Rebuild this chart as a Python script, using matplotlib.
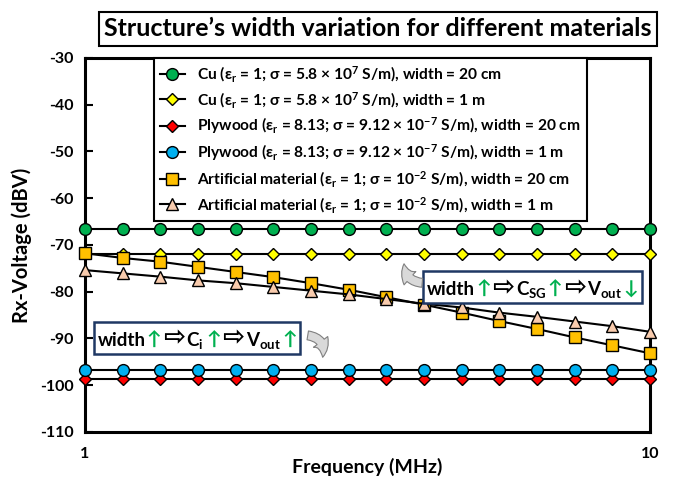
import numpy as np
import matplotlib
matplotlib.use("Agg")
import matplotlib.pyplot as plt
from matplotlib.offsetbox import TextArea, HPacker, AnchoredOffsetbox

plt.rcParams['font.family'] = ['Lato', 'DejaVu Sans']
plt.rcParams['font.weight'] = 'bold'
plt.rcParams['axes.unicode_minus'] = False
plt.rcParams['mathtext.fontset'] = 'custom'
plt.rcParams['mathtext.rm'] = 'Lato:bold'
plt.rcParams['mathtext.it'] = 'Lato:bold'
plt.rcParams['mathtext.bf'] = 'Lato:bold'

# frequency points (MHz), evenly spaced on the log axis
freq = [1.0, 1.166, 1.359, 1.585, 1.848, 2.154, 2.512, 2.929,
        3.415, 3.981, 4.642, 5.412, 6.310, 7.356, 8.577, 10.0]

cu_20cm = [-66.5] * 16
cu_1m = [-72.0] * 16
ply_20cm = [-98.7] * 16
ply_1m = [-96.7] * 16
art_20cm = [-71.8, -72.8, -73.6, -74.7, -75.8, -76.9, -78.2, -79.6,
            -81.2, -82.8, -84.5, -86.3, -88.0, -89.8, -91.5, -93.2]
art_1m = [-75.4, -76.1, -76.8, -77.6, -78.2, -79.0, -79.8, -80.6,
          -81.6, -82.6, -83.4, -84.5, -85.4, -86.4, -87.4, -88.6]

labels = [
    r'Cu (ε$_\mathrm{r}$ = 1; σ = 5.8 × 10$^\mathrm{7}$ S/m), width = 20 cm',
    r'Cu (ε$_\mathrm{r}$ = 1; σ = 5.8 × 10$^\mathrm{7}$ S/m), width = 1 m',
    r'Plywood (ε$_\mathrm{r}$ = 8.13; σ = 9.12 × 10$^\mathrm{-7}$ S/m), width = 20 cm',
    r'Plywood (ε$_\mathrm{r}$ = 8.13; σ = 9.12 × 10$^\mathrm{-7}$ S/m), width = 1 m',
    r'Artificial material (ε$_\mathrm{r}$ = 1; σ = 10$^\mathrm{-2}$ S/m), width = 20 cm',
    r'Artificial material (ε$_\mathrm{r}$ = 1; σ = 10$^\mathrm{-2}$ S/m), width = 1 m',
]
series = [cu_20cm, cu_1m, ply_20cm, ply_1m, art_20cm, art_1m]
markers = ['o', 'D', 'D', 'o', 's', '^']
colors = ['#00B050', '#FFFF00', '#FF0000', '#00B0F0', '#FFC000', '#F8CBAD']
sizes = [8.5, 6.5, 6.5, 8.5, 9, 9]

fig = plt.figure(figsize=(6.75, 4.83), dpi=100)
ax = fig.add_axes([0.126, 0.106, 0.837, 0.774])

for y, lab, m, c, s in zip(series, labels, markers, colors, sizes):
    ax.plot(freq, y, color='black', lw=1.5, marker=m, ms=s,
            mfc=c, mec='black', mew=1.0, label=lab, clip_on=False, zorder=3)

ax.set_xscale('log')
ax.set_xlim(1, 10)
ax.set_ylim(-110, -30)
ax.set_xticks([1, 10])
ax.set_xticklabels(['1', '10'])
ax.xaxis.set_minor_locator(matplotlib.ticker.NullLocator())
ax.set_yticks(np.arange(-110, -29, 10))
ax.tick_params(axis='y', direction='in', length=6, width=1.5, labelsize=11.5, pad=8)
ax.tick_params(axis='x', length=0, labelsize=11.5, pad=11)
for sp in ax.spines.values():
    sp.set_linewidth(2.2)
ax.set_xlabel('Frequency (MHz)', fontsize=14, fontweight='bold', labelpad=-2)
ax.set_ylabel('Rx-Voltage (dBV)', fontsize=14.5, fontweight='bold', labelpad=6)

leg = ax.legend(loc='upper center', bbox_to_anchor=(0.505, 1.0), fontsize=11.2,
                handlelength=1.6, borderpad=0.4, labelspacing=0.38,
                borderaxespad=0, fancybox=False, framealpha=1, edgecolor='black')
leg.get_frame().set_linewidth(1.5)

fig.text(0.56, 0.94, 'Structure’s width variation for different materials',
         ha='center', va='center', fontsize=18, fontweight='bold',
         bbox=dict(boxstyle='square,pad=0.22', fc='white', ec='black', lw=1.5))


def relation_box(parts, xy):
    kids = []
    for txt, col, fs in parts:
        kids.append(TextArea(txt, textprops=dict(color=col, fontsize=fs,
                                                 fontweight='bold')))
    pack = HPacker(children=kids, align='baseline', pad=0, sep=1)
    box = AnchoredOffsetbox(loc='center', child=pack, pad=0.25, borderpad=0,
                            frameon=True, bbox_to_anchor=xy,
                            bbox_transform=fig.transFigure)
    box.patch.set_edgecolor('#1F3864')
    box.patch.set_linewidth(1.8)
    box.patch.set_facecolor('white')
    box.set_zorder(5)
    fig.add_artist(box)


green = '#00B050'
relation_box([('width', 'black', 13.5), ('↑', green, 14), ('⇨', 'black', 19),
              (r'C$_\mathrm{SG}$', 'black', 13.5), ('↑', green, 14),
              ('⇨', 'black', 19), (r'V$_\mathrm{out}$', 'black', 13.5),
              ('↓', green, 14)], (0.789, 0.405))
relation_box([('width', 'black', 13.5), ('↑', green, 14), ('⇨', 'black', 19),
              (r'C$_\mathrm{i}$ ', 'black', 13.5), ('↑', green, 14),
              ('⇨', 'black', 19), (r'V$_\mathrm{out}$', 'black', 13.5),
              ('↑', green, 14)], (0.292, 0.30))

arrow = dict(arrowstyle='simple,head_length=0.7,head_width=0.8,tail_width=0.4',
             fc='#D9D9D9', ec='#7F7F7F', lw=0.8, mutation_scale=16)
fig.add_artist(matplotlib.patches.FancyArrowPatch(
    (425 / 675, 1 - 283 / 483), (404 / 675, 1 - 261 / 483),
    connectionstyle='arc3,rad=-0.5', transform=fig.transFigure, zorder=6, **arrow))
fig.add_artist(matplotlib.patches.FancyArrowPatch(
    (305 / 675, 1 - 335 / 483), (322 / 675, 1 - 360 / 483),
    connectionstyle='arc3,rad=-0.6', transform=fig.transFigure, zorder=6, **arrow))

fig.savefig('out.png', dpi=100)
